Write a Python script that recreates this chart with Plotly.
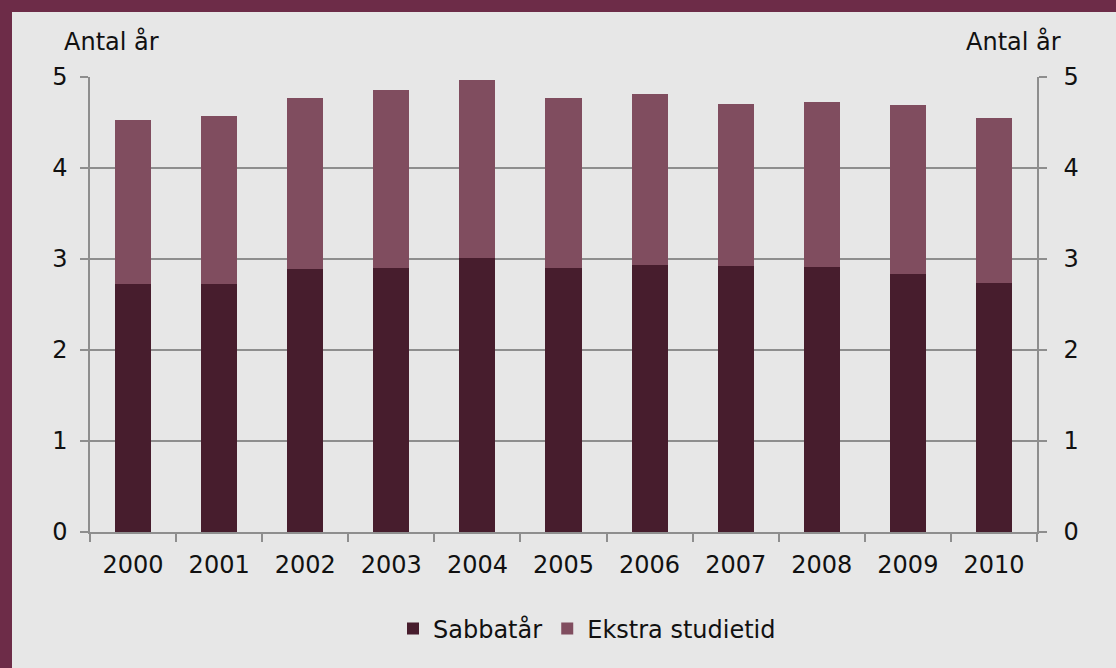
import plotly.graph_objects as go

years = ["2000", "2001", "2002", "2003", "2004", "2005", "2006", "2007", "2008", "2009", "2010"]
sabbatar = [2.73, 2.72, 2.89, 2.90, 3.01, 2.90, 2.93, 2.92, 2.91, 2.83, 2.74]
ekstra = [1.80, 1.85, 1.88, 1.96, 1.96, 1.87, 1.88, 1.78, 1.82, 1.86, 1.81]
y_ticks = [0, 1, 2, 3, 4, 5]

W, H = 1116, 668
L, R, T, B = 90, 1116 - 1037, 77, 668 - 532
pw, ph = W - L - R, H - T - B

def px(x):
    return (x - L) / pw

def py(y):
    return (H - B - y) / ph

FONT = "DejaVu Sans"
GRID = "#8e8e8e"
BG = "#e7e7e7"
FRAME = "#6d2c48"

fig = go.Figure()
fig.add_trace(go.Bar(x=years, y=sabbatar, name="Sabbatår", marker_color="#471d2d",
                     marker_line_width=0))
fig.add_trace(go.Bar(x=years, y=ekstra, name="Ekstra studietid", marker_color="#804d5f",
                     marker_line_width=0))
# invisible trace to display the right-hand axis
fig.add_trace(go.Scatter(x=years, y=sabbatar, yaxis="y2", mode="markers",
                         marker_opacity=0, showlegend=False, hoverinfo="skip"))

fig.update_layout(
    width=W, height=H,
    margin=dict(l=L, r=R, t=T, b=B, autoexpand=False),
    paper_bgcolor=BG, plot_bgcolor=BG,
    barmode="stack", bargap=0.58,
    font=dict(family=FONT, size=24, color="#111111"),
    xaxis=dict(type="category", range=[-0.5, len(years) - 0.5], tickson="boundaries",
               ticks="outside", ticklen=8,
               tickcolor=GRID, tickwidth=1.5, showline=True, linecolor=GRID, linewidth=1.5,
               showgrid=False, ticklabelstandoff=10, automargin=False),
    yaxis=dict(range=[0, 5], tickvals=y_ticks, ticks="outside", ticklen=8, tickcolor=GRID,
               tickwidth=1.5, showline=True, linecolor=GRID, linewidth=1.5,
               showgrid=True, gridcolor=GRID, gridwidth=1.5, zeroline=False,
               ticklabelstandoff=8, automargin=False),
    yaxis2=dict(range=[0, 5], tickvals=y_ticks, overlaying="y", side="right",
                ticks="outside", ticklen=8, tickcolor=GRID, tickwidth=1.5, showline=True,
                linecolor=GRID, linewidth=1.5, showgrid=False, zeroline=False,
                ticklabelstandoff=12, automargin=False),
    legend=dict(orientation="h", x=px(587), xanchor="center", y=py(629), yanchor="middle",
                bgcolor="rgba(0,0,0,0)", font=dict(size=24), itemwidth=30,
                traceorder="normal"),
    showlegend=True,
)

fig.add_annotation(text="Antal år", xref="paper", yref="paper", x=px(62), y=py(41),
                   xanchor="left", yanchor="middle", showarrow=False, font=dict(size=24))
fig.add_annotation(text="Antal år", xref="paper", yref="paper", x=px(1063), y=py(41),
                   xanchor="right", yanchor="middle", showarrow=False, font=dict(size=24))

# frame bands
fig.add_shape(type="rect", xref="paper", yref="paper", x0=px(0), x1=px(W), y0=py(0), y1=py(12),
              fillcolor=FRAME, line_width=0, layer="below")
fig.add_shape(type="rect", xref="paper", yref="paper", x0=px(0), x1=px(12), y0=py(0), y1=py(H),
              fillcolor=FRAME, line_width=0, layer="below")

fig.write_html("out.html", config={"displayModeBar": False},
               post_script="document.body.style.margin='0';document.body.style.overflow='hidden';")
